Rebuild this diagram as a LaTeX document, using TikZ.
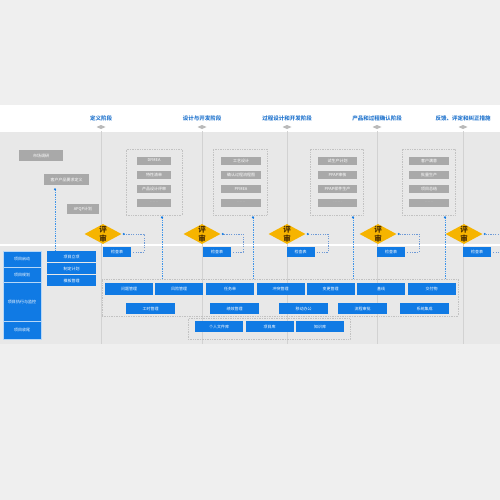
\documentclass[tikz,border=0pt]{standalone}
\usepackage{fontspec}
\setmainfont{Noto Sans CJK SC}
\usetikzlibrary{shapes.geometric,calc}
\definecolor{bgout}{HTML}{EFEFEF}
\definecolor{bgin}{HTML}{E8E8E8}
\definecolor{pblue}{HTML}{107AE4}
\definecolor{hblue}{HTML}{2A7AD0}
\definecolor{gbox}{HTML}{A9A9A9}
\definecolor{dotc}{HTML}{C2C2C2}
\definecolor{phl}{HTML}{D2D2D2}
\definecolor{amber}{HTML}{F6B400}
\definecolor{lblue}{HTML}{6E9AD6}
\definecolor{dtext}{HTML}{4A2E00}
\tikzset{
  tx/.style={font=\fontsize{4}{5}\selectfont},
  bbox/.style={tx, fill=pblue, text=white, inner sep=0pt},
  gbx/.style={tx, fill=gbox, text=white, inner sep=0pt},
  grp/.style={draw=dotc, densely dotted, line width=0.7pt, inner sep=0pt},
  hdr/.style={font=\fontsize{5.5}{6}\selectfont\bfseries, text=hblue, inner sep=0pt},
  rev/.style={diamond, fill=amber, inner sep=0pt, minimum width=37pt, minimum height=20pt},
  revt/.style={font=\fontsize{7.5}{7.5}\selectfont\bfseries, text=dtext, inner sep=0pt},
  bdot/.style={draw=pblue!80, densely dotted, line width=0.7pt},
  ldot/.style={draw=lblue, line width=0.5pt, dash pattern=on 1.2pt off 1.2pt},
}
\begin{document}
\begin{tikzpicture}[x=1pt,y=-1pt]
\useasboundingbox (0,0) rectangle (500,500);
\clip (0,0) rectangle (500,500);
% backgrounds
\fill[bgout] (0,0) rectangle (500,500);
\fill[white] (0,105) rectangle (500,132);
\fill[bgin] (0,132) rectangle (500,344);
\fill[white] (0,244) rectangle (500,246);

% phase lines, headers and markers
\foreach \x/\t/\n in {101/定义阶段/1, 202/设计与开发阶段/2, 287/过程设计和开发阶段/3, 377/产品和过程确认阶段/4, 463/反馈、评定和纠正措施/5}{
  \draw[phl, line width=0.6pt] (\x,131) -- (\x,344);
  \node[hdr] (h\n) at (\x,118) {\t};
  \fill[gbox!80] (\x-4.5,127) -- (\x,125) -- (\x+4.5,127) -- (\x,129) -- cycle;
}

% definition phase gray boxes
\node[gbx, minimum width=44pt, minimum height=11pt] (d1) at (41,155.5) {市场调研};
\node[gbx, minimum width=45pt, minimum height=11pt] (d2) at (66.5,179.5) {客户产品要求定义};
\node[gbx, minimum width=32pt, minimum height=10pt] (d3) at (83,209) {APQP计划};

% phase groups
\node[grp, minimum width=56pt, minimum height=66pt] (g2) at (154,182) {};
\node[grp, minimum width=54pt, minimum height=66pt] (g3) at (240,182) {};
\node[grp, minimum width=53pt, minimum height=66pt] (g4) at (336.5,182) {};
\node[grp, minimum width=53pt, minimum height=66pt] (g5) at (428.5,182) {};

\foreach \cx/\w/\g/\a/\b/\c in {154/34/2/DFMEA/特性清单/产品设计评审, 241/40/3/工艺设计/确认过程流程图/PFMEA, 337.5/39/4/试生产计划/PPAP审核/PPAP样件生产, 429/40/5/客户满意/批量生产/项目总结}{
  \node[gbx, minimum width=\w pt, minimum height=8pt] (i\g a) at (\cx,160.5) {\a};
  \node[gbx, minimum width=\w pt, minimum height=8pt] (i\g b) at (\cx,174.5) {\b};
  \node[gbx, minimum width=\w pt, minimum height=8pt] (i\g c) at (\cx,189) {\c};
  \node[gbx, minimum width=\w pt, minimum height=8pt, text=gbox!60] (i\g d) at (\cx,202.5) {……};
}

% review diamonds, check tables, loops
\foreach \cx/\bx/\n in {103/117/1, 202/217/2, 287/300.5/3, 378/391/4, 464/477/5}{
  \node[rev] (r\n) at (\cx,234) {};
  \node[revt] (rw\n) at (\cx,229.5) {评};
  \node[revt] (rv\n) at (\cx,238.5) {审};
  \node[bbox, minimum width=28pt, minimum height=10pt] (k\n) at (\bx,252) {检查表};
  \coordinate (kr\n) at ($(k\n.east)+(2,0)$);
  \coordinate (rt\n) at ($(r\n.east)+(2,0)$);
  \draw[ldot] (kr\n) -- (\cx+41,252) -- (\cx+41,234) -- (rt\n);
  \fill[pblue] (rt\n) circle (1.2pt);
}

% dotted groups of tools
\node[grp, minimum width=356pt, minimum height=37pt] (ga) at (280,297.5) {};
\node[grp, minimum width=162pt, minimum height=21pt] (gb) at (269,329) {};

% left blue column
\begin{scope}[every node/.style={bbox, draw=white!70!pblue, line width=0.4pt, minimum width=38pt}]
\node[minimum height=16pt] (l1) at (22,259) {项目启动};
\node[minimum height=15pt] (l2) at (22,274.5) {项目规划};
\node[minimum height=39pt] (l3) at (22,301.5) {项目执行与监控};
\node[minimum height=18pt] (l4) at (22,330) {项目收尾};
\end{scope}
\node[bbox, minimum width=49pt, minimum height=11.5pt] (s1) at (71.5,256.5) {项目立项};
\node[bbox, minimum width=49pt, minimum height=10.5pt] (s2) at (71.5,268.5) {制定计划};
\node[bbox, minimum width=49pt, minimum height=11pt] (s3) at (71.5,280.5) {模板管理};

% row 1
\foreach \cx/\t/\n in {129/问题管理/1, 179/风险管理/2, 230/任务单/3, 280.5/冲突管理/4, 330.5/变更管理/5, 381/基线/6, 431.5/交付物/7}{
  \node[bbox, minimum width=48pt, minimum height=12pt] (ra\n) at (\cx,289) {\t};
}
% row 2
\foreach \cx/\t/\n in {150.5/工时管理/1, 234.5/绩效管理/2, 303.5/移动办公/3, 362.5/流程审批/4, 424.5/系统集成/5}{
  \node[bbox, minimum width=49pt, minimum height=11pt] (rb\n) at (\cx,308.5) {\t};
}
% row 3
\foreach \cx/\t/\n in {219/个人文件库/1, 269.5/项目库/2, 320/知识库/3}{
  \node[bbox, minimum width=48pt, minimum height=11pt] (rc\n) at (\cx,326.5) {\t};
}

% blue dotted connectors
\coordinate (t0) at (s1.north -| 55,0);
\coordinate (u0) at ($(d2.south -| 55,0)+(0,4)$);
\draw[bdot] (t0) -- (u0);
\fill[pblue] (u0) circle (1.2pt);
\foreach \g/\x in {2/162, 3/253, 4/353, 5/445}{
  \coordinate (u\g) at ($(g\g.south -| \x,0)+(0,2)$);
  \coordinate (t\g) at (ga.north -| \x,0);
  \draw[bdot] (t\g) -- (u\g);
  \fill[pblue] (u\g) circle (1.2pt);
}
\end{tikzpicture}
\end{document}
